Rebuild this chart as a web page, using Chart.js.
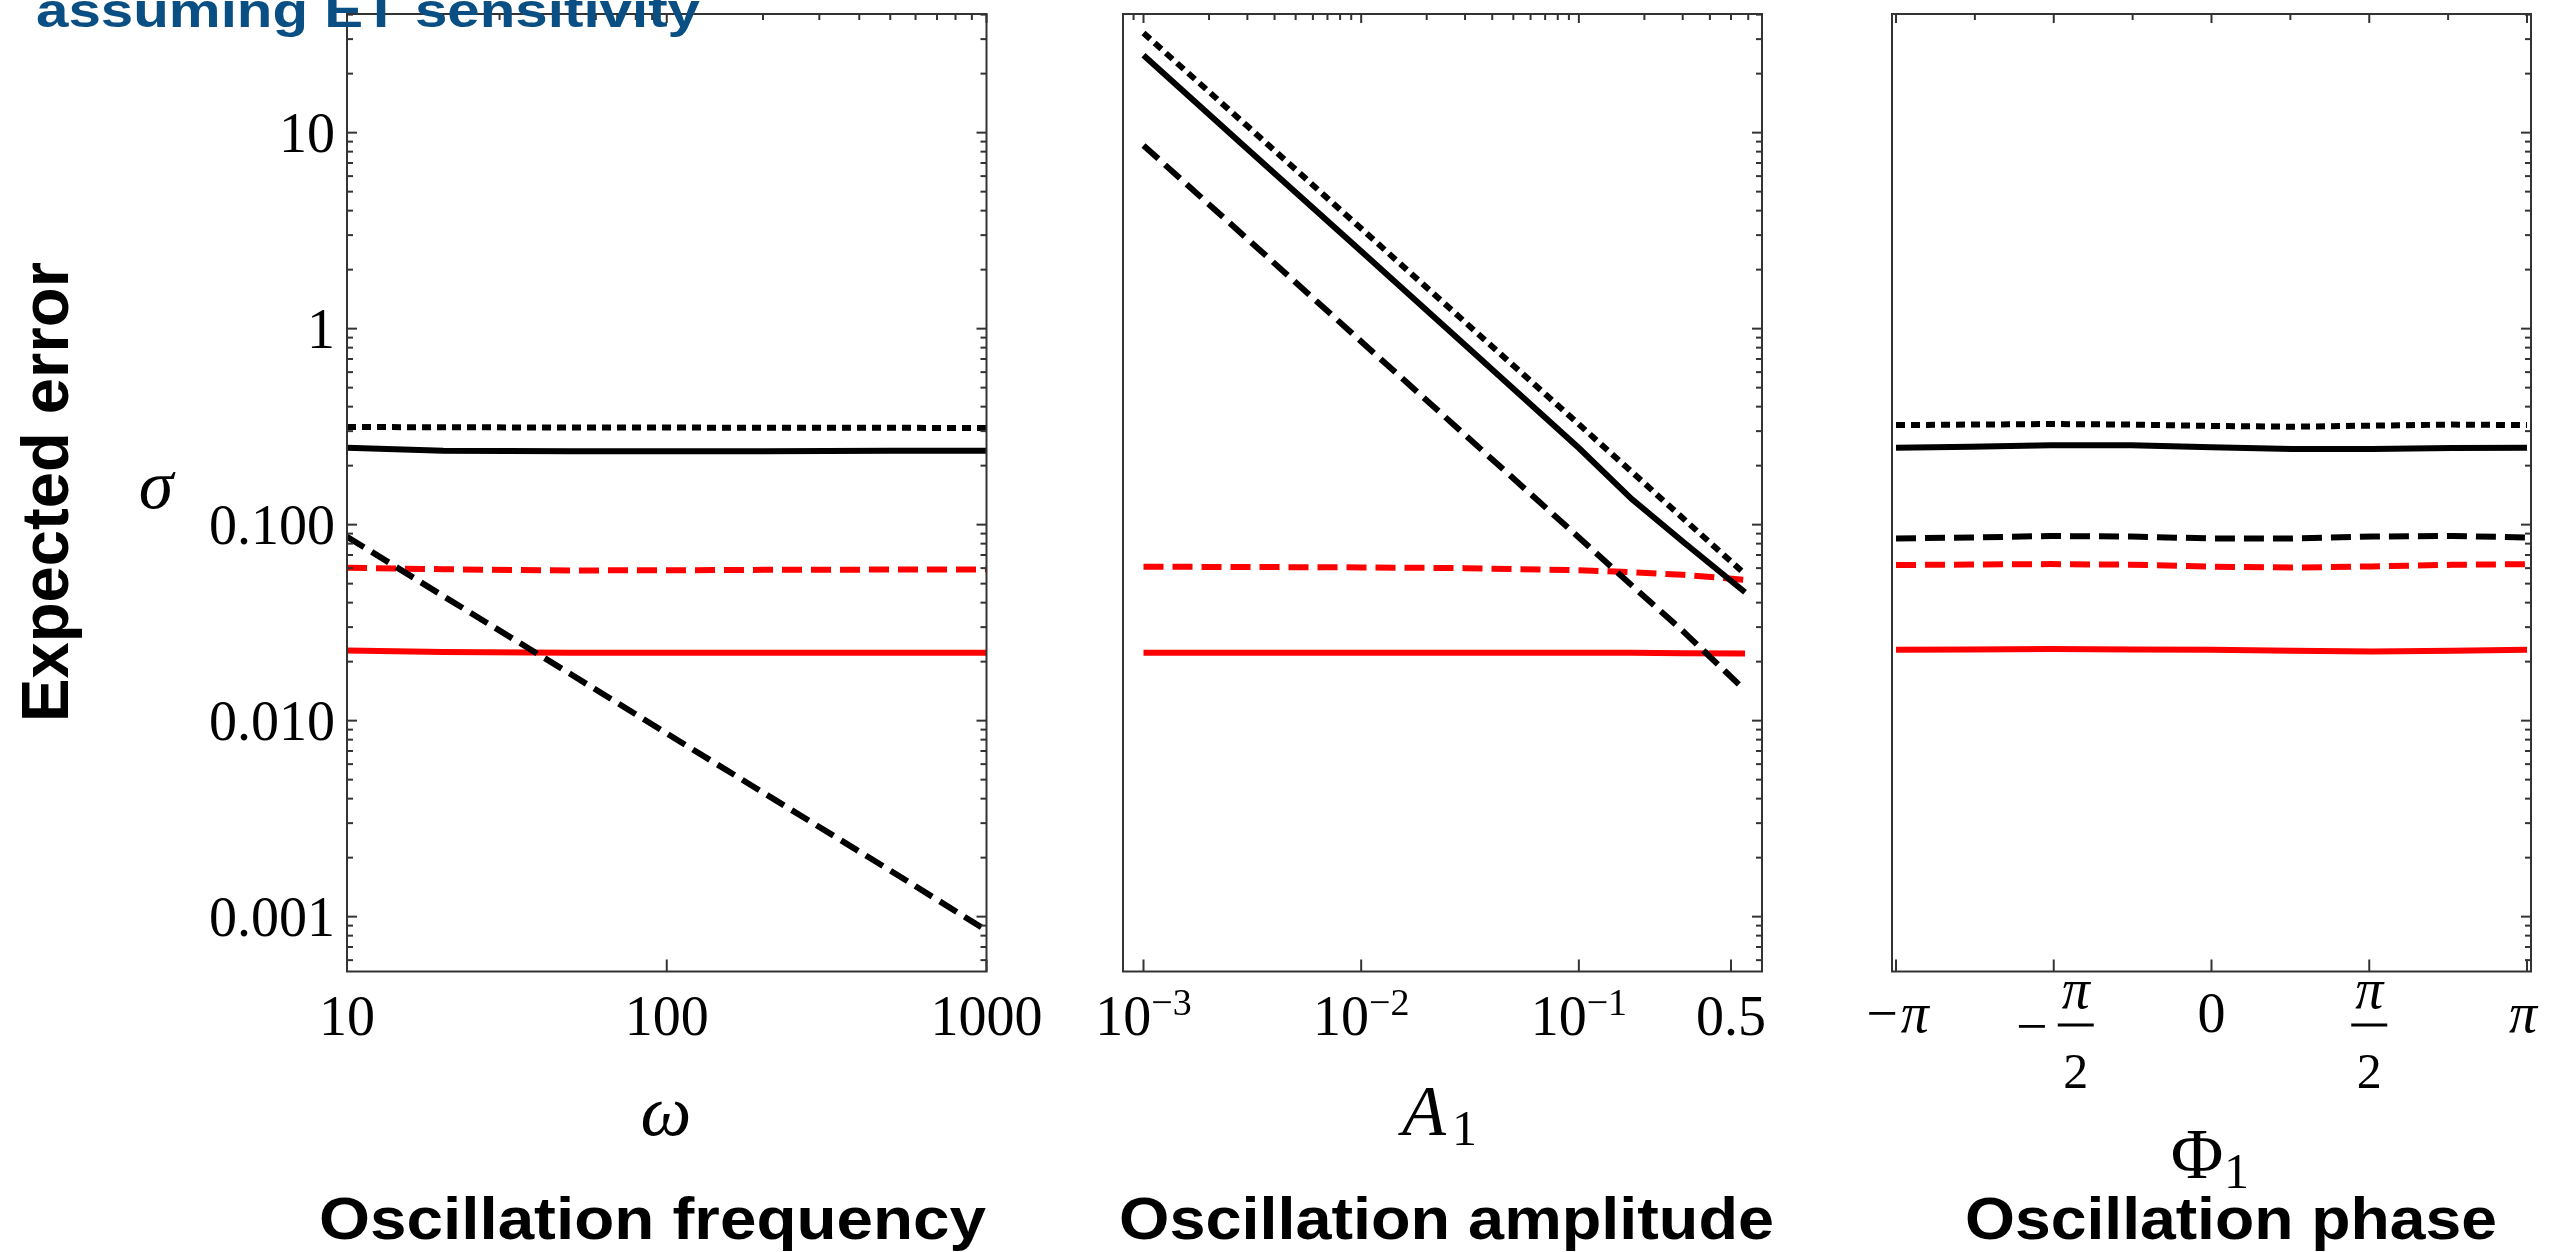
<!DOCTYPE html>
<html>
<head>
<meta charset="utf-8">
<script src="https://cdn.jsdelivr.net/npm/chart.js@4.4.1/dist/chart.umd.min.js"></script>
<style>
  body { margin: 0; background: #fff; }
  #wrap { position: relative; width: 2567px; height: 1252px; overflow: hidden; background: #fff; }
  canvas { position: absolute; left: 0; top: 0; }
</style>
</head>
<body>
<div id="wrap">
  <canvas id="freqChart" width="2567" height="1252"></canvas>
  <canvas id="ampChart" width="2567" height="1252"></canvas>
  <canvas id="phaseChart" width="2567" height="1252"></canvas>
</div>
<script>
// ---- data ----
const PI = Math.PI;

// panel 1: oscillation frequency
const omegaValues = [10, 20, 50, 100, 200, 500, 1000];
const freqDotted = [0.315, 0.314, 0.313, 0.313, 0.312, 0.312, 0.311];
const freqSolid = [0.247, 0.238, 0.237, 0.237, 0.237, 0.238, 0.238];
const freqDashed = [0.0868, 0.0432, 0.0173, 0.0086, 0.0043, 0.00172, 0.00085];
const freqRedDashed = [0.0603, 0.0592, 0.0584, 0.0585, 0.0588, 0.0590, 0.0590];
const freqRedSolid = [0.0228, 0.0224, 0.0222, 0.0222, 0.0222, 0.0222, 0.0222];

// panel 2: oscillation amplitude
const ampValues = [0.001, 0.003, 0.01, 0.03, 0.1, 0.175, 0.3, 0.58];
const ampDotted = [32.2, 10.8, 3.24, 1.08, 0.325, 0.186, 0.108, 0.056];
const ampSolid = [24.8, 8.25, 2.48, 0.825, 0.246, 0.135, 0.082, 0.0452];
const ampDashed = [8.6, 2.87, 0.86, 0.287, 0.086, 0.049, 0.0287, 0.0143];
const ampRedDashed = [0.061, 0.0608, 0.0605, 0.060, 0.0585, 0.0572, 0.0555, 0.0523];
const ampRedSolid = [0.0222, 0.0222, 0.0222, 0.0222, 0.0222, 0.0222, 0.0221, 0.0220];

// panel 3: oscillation phase
const phaseValues = [-PI, -2.4, -1.6, -0.8, 0, 0.8, 1.6, 2.4, PI];
const phaseDotted = [0.322, 0.324, 0.326, 0.324, 0.319, 0.316, 0.320, 0.324, 0.322];
const phaseSolid = [0.247, 0.250, 0.254, 0.254, 0.248, 0.243, 0.243, 0.246, 0.247];
const phaseDashed = [0.085, 0.086, 0.0875, 0.087, 0.085, 0.085, 0.087, 0.0875, 0.086];
const phaseRedDashed = [0.0622, 0.0626, 0.0629, 0.0625, 0.0610, 0.0604, 0.0612, 0.0624, 0.0629];
const phaseRedSolid = [0.0230, 0.0231, 0.0232, 0.0231, 0.0230, 0.0227, 0.0225, 0.0227, 0.0230];

// ticks
const sigmaTicks = [0.001, 0.01, 0.1, 1, 10];
const sigmaTickLabels = ['0.001', '0.010', '0.100', '1', '10'];
const omegaTicks = [10, 100, 1000];
const omegaTickLabels = ['10', '100', '1000'];
const ampTicks = [0.001, 0.01, 0.1, 0.5];
const ampTickBases = ['10', '10', '10', '0.5'];
const ampTickExps = ['\u22123', '\u22122', '\u22121', ''];
const phaseTicks = [-PI, -PI / 2, 0, PI / 2, PI];

// ---- look ----
const W = 2567, H = 1252;
const Y_MIN = 5.25e-4, Y_MAX = 40.3;
const FRAME = '#333333';
const SERIF = '"Liberation Serif", "Times New Roman", serif';
const SANS = '"Liberation Sans", Arial, sans-serif';
const LW = 6;

function series(xs, ys, color, dash) {
    return {
        data: xs.map((x, i) => ({ x: x, y: ys[i] })),
        borderColor: color,
        borderWidth: LW,
        borderDash: dash,
        borderCapStyle: 'butt',
        pointRadius: 0,
        tension: 0,
        fill: false
    };
}

const DOTTED = [9, 6];
const DASHED = [20, 9];

// log minor tick positions for an interval
function logMinors(lo, hi) {
    const out = [];
    for (let e = Math.floor(Math.log10(lo)); e <= Math.ceil(Math.log10(hi)); e++) {
        for (let m = 2; m <= 9; m++) {
            const v = m * Math.pow(10, e);
            if (v > lo && v < hi) out.push(v);
        }
    }
    return out;
}

function line(ctx, x1, y1, x2, y2) {
    ctx.beginPath();
    ctx.moveTo(x1, y1);
    ctx.lineTo(x2, y2);
    ctx.stroke();
}

function fitText(ctx, text, x0, x1, baseline, font, color) {
    ctx.save();
    ctx.font = font;
    ctx.fillStyle = color;
    ctx.textAlign = 'left';
    ctx.textBaseline = 'alphabetic';
    const w = ctx.measureText(text).width;
    ctx.translate(x0, baseline);
    ctx.scale((x1 - x0) / w, 1);
    ctx.fillText(text, 0, 0);
    ctx.restore();
}

function text(ctx, str, x, y, font, align) {
    ctx.font = font;
    ctx.textAlign = align || 'center';
    ctx.textBaseline = 'alphabetic';
    ctx.fillText(str, x, y);
}

/**
 * Frame with inward ticks, Mathematica style
 */
function framePlugin(cfg) {
    return {
        id: 'frame',
        afterDraw(chart) {
            const ctx = chart.ctx;
            const a = chart.chartArea;
            const xs = chart.scales.x;
            const ys = chart.scales.y;
            ctx.save();
            ctx.strokeStyle = FRAME;
            ctx.lineWidth = 2;

            // y ticks (right always, left only for panel 1)
            const yMinor = logMinors(Y_MIN, Y_MAX);
            const sides = cfg.leftTicks ? [a.left, a.right] : [a.right];
            sides.forEach(edge => {
                const dir = edge === a.left ? 1 : -1;
                sigmaTicks.forEach(v => {
                    const y = ys.getPixelForValue(v);
                    line(ctx, edge, y, edge + dir * 10, y);
                });
                yMinor.forEach(v => {
                    const y = ys.getPixelForValue(v);
                    line(ctx, edge, y, edge + dir * 6, y);
                });
            });

            // bottom ticks
            cfg.bottomTicks.forEach(v => {
                const x = xs.getPixelForValue(v);
                line(ctx, x, a.bottom, x, a.bottom - 12);
            });
            // top ticks
            cfg.topMajor.forEach(v => {
                const x = xs.getPixelForValue(v);
                line(ctx, x, a.top, x, a.top + 9);
            });
            cfg.topMinor.forEach(v => {
                const x = xs.getPixelForValue(v);
                line(ctx, x, a.top, x, a.top + 6);
            });

            ctx.strokeRect(a.left, a.top, a.right - a.left, a.bottom - a.top);
            ctx.restore();

            ctx.save();
            ctx.fillStyle = '#000';
            ctx.strokeStyle = '#000';
            cfg.labels(chart, ctx, xs, ys);
            ctx.restore();
        }
    };
}

function makeChart(id, box, xScale, datasets, cfg) {
    return new Chart(document.getElementById(id), {
        type: 'line',
        data: { datasets: datasets },
        options: {
            responsive: false,
            animation: false,
            devicePixelRatio: 1,
            layout: {
                padding: { left: box.l, right: W - box.r, top: box.t, bottom: H - box.b }
            },
            plugins: { legend: { display: false }, tooltip: { enabled: false } },
            scales: {
                x: Object.assign({ display: false }, xScale),
                y: { type: 'logarithmic', min: Y_MIN, max: Y_MAX, display: false }
            }
        },
        plugins: [framePlugin(cfg)]
    });
}

// ---- panel 1 ----
makeChart('freqChart', { l: 347, r: 986.5, t: 14, b: 971.5 },
    { type: 'logarithmic', min: 10, max: 1000 },
    [
        series(omegaValues, freqDotted, '#000', DOTTED),
        series(omegaValues, freqSolid, '#000', []),
        series(omegaValues, freqDashed, '#000', DASHED),
        series(omegaValues, freqRedDashed, '#ff0000', DASHED),
        series(omegaValues, freqRedSolid, '#ff0000', [])
    ],
    {
        leftTicks: true,
        bottomTicks: omegaTicks,
        topMajor: omegaTicks,
        topMinor: logMinors(10, 1000),
        labels(chart, ctx, xs, ys) {
            const f = '56px ' + SERIF;
            sigmaTicks.forEach((v, i) => {
                text(ctx, sigmaTickLabels[i], 335, ys.getPixelForValue(v) + 19, f, 'right');
            });
            omegaTicks.forEach((v, i) => {
                text(ctx, omegaTickLabels[i], xs.getPixelForValue(v), 1035, f, 'center');
            });
            text(ctx, '\u03C9', 666, 1135, 'italic 72px ' + SERIF, 'center');
            text(ctx, '\u03C3', 156, 508, 'italic 70px ' + SERIF, 'center');

            // rotated y title
            ctx.save();
            ctx.translate(68, 722);
            ctx.rotate(-Math.PI / 2);
            fitText(ctx, 'Expected error', 0, 460, 0, 'bold 66px ' + SANS, '#000');
            ctx.restore();

            fitText(ctx, 'Oscillation frequency', 319, 986, 1239, 'bold 59px ' + SANS, '#000');
            fitText(ctx, 'assuming ET sensitivity', 36, 700, 27, 'bold 49px ' + SANS, '#0a4f83');
        }
    });

// ---- panel 2 ----
makeChart('ampChart', { l: 1123, r: 1762, t: 14, b: 971.5 },
    { type: 'logarithmic', min: 8.05e-4, max: 0.694 },
    [
        series(ampValues, ampDotted, '#000', DOTTED),
        series(ampValues, ampSolid, '#000', []),
        series(ampValues, ampDashed, '#000', DASHED),
        series(ampValues, ampRedDashed, '#ff0000', DASHED),
        series(ampValues, ampRedSolid, '#ff0000', [])
    ],
    {
        leftTicks: false,
        bottomTicks: ampTicks,
        topMajor: [0.001, 0.01, 0.1],
        topMinor: logMinors(8.05e-4, 0.694),
        labels(chart, ctx, xs, ys) {
            const fBase = '56px ' + SERIF;
            const fExp = '38px ' + SERIF;
            ampTicks.forEach((v, i) => {
                ctx.font = fBase;
                const wb = ctx.measureText(ampTickBases[i]).width;
                ctx.font = fExp;
                const we = ctx.measureText(ampTickExps[i]).width;
                const x0 = xs.getPixelForValue(v) - (wb + we) / 2;
                text(ctx, ampTickBases[i], x0, 1035, fBase, 'left');
                if (ampTickExps[i]) text(ctx, ampTickExps[i], x0 + wb, 1015, fExp, 'left');
            });
            text(ctx, 'A', 1424, 1135, 'italic 72px ' + SERIF, 'center');
            text(ctx, '1', 1452, 1145, '50px ' + SERIF, 'left');
            fitText(ctx, 'Oscillation amplitude', 1119, 1774, 1239, 'bold 59px ' + SANS, '#000');
        }
    });

// ---- panel 3 ----
makeChart('phaseChart', { l: 1892, r: 2531, t: 14, b: 971.5 },
    { type: 'linear', min: -3.1814, max: 3.1814 },
    [
        series(phaseValues, phaseDotted, '#000', DOTTED),
        series(phaseValues, phaseSolid, '#000', []),
        series(phaseValues, phaseDashed, '#000', DASHED),
        series(phaseValues, phaseRedDashed, '#ff0000', DASHED),
        series(phaseValues, phaseRedSolid, '#ff0000', [])
    ],
    {
        leftTicks: false,
        bottomTicks: phaseTicks,
        topMajor: phaseTicks,
        topMinor: [-3 * PI / 4, -PI / 4, PI / 4, 3 * PI / 4],
        labels(chart, ctx, xs, ys) {
            const f = '56px ' + SERIF;
            const fPi = 'italic 56px ' + SERIF;
            const px = phaseTicks.map(v => xs.getPixelForValue(v));
            text(ctx, '\u2212\u03C0', px[0], 1032, fPi, 'center');
            text(ctx, '0', px[2], 1032, f, 'center');
            text(ctx, '\u03C0', px[4] - 4, 1032, fPi, 'center');

            // fractions -pi/2 and pi/2
            const fracs = [{ cx: px[1] + 22, neg: true }, { cx: px[3], neg: false }];
            ctx.lineWidth = 3;
            fracs.forEach(fr => {
                text(ctx, '\u03C0', fr.cx, 1008, fPi, 'center');
                line(ctx, fr.cx - 18, 1025, fr.cx + 18, 1025);
                text(ctx, '2', fr.cx, 1088, '50px ' + SERIF, 'center');
                if (fr.neg) text(ctx, '\u2212', fr.cx - 44, 1045, f, 'center');
            });

            text(ctx, '\u03A6', 2197, 1178, '72px ' + SERIF, 'center');
            text(ctx, '1', 2224, 1188, '50px ' + SERIF, 'left');
            fitText(ctx, 'Oscillation phase', 1965, 2497, 1239, 'bold 59px ' + SANS, '#000');
        }
    });
</script>
</body>
</html>
